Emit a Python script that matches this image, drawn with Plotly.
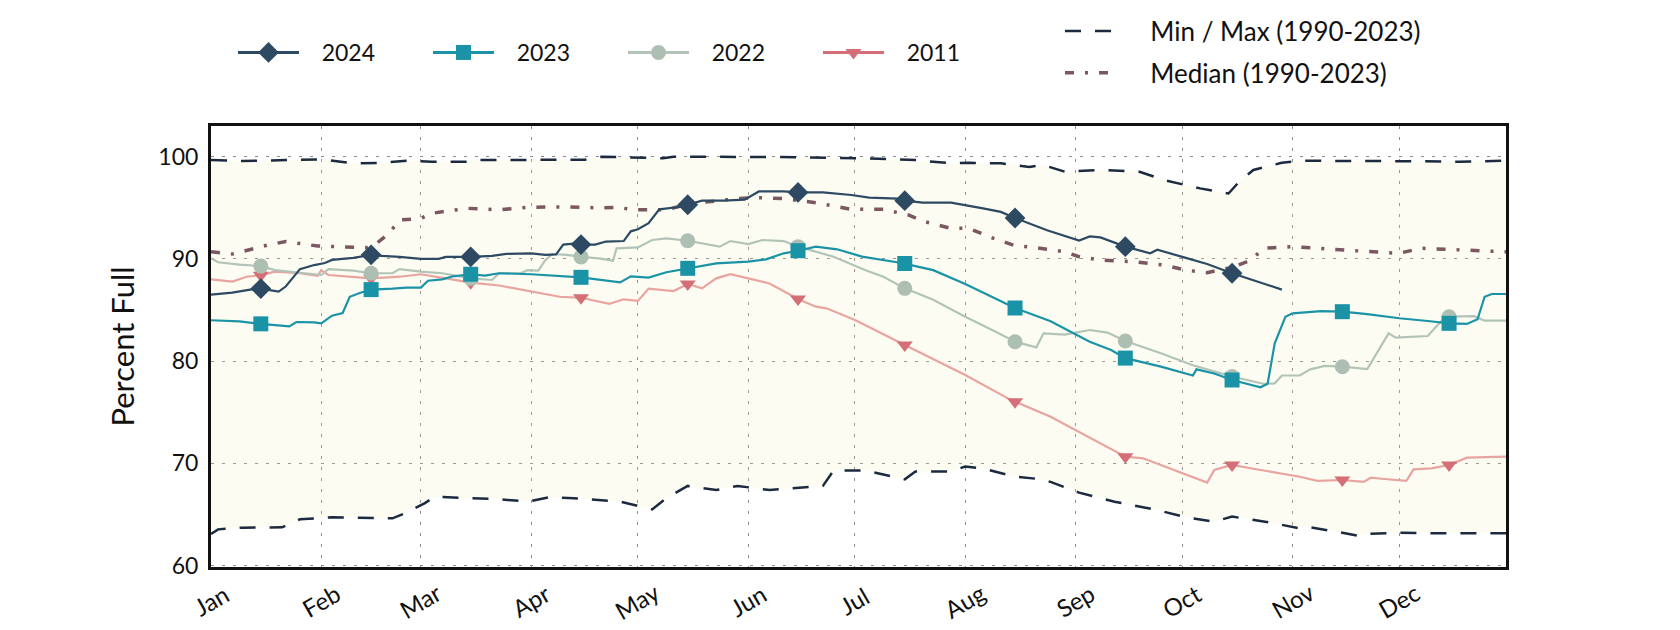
import plotly.graph_objects as go
import pandas as pd

BASE = pd.Timestamp("2023-01-01")
MONTHS = ["Jan", "Feb", "Mar", "Apr", "May", "Jun", "Jul", "Aug", "Sep", "Oct", "Nov", "Dec"]
MONTH_START_DAYS = [0, 31, 59, 90, 120, 151, 181, 212, 243, 273, 304, 334]
MARKER_DAYS = [14, 45, 73, 104, 134, 165, 195, 226, 257, 287, 318, 348]
Y_TICKS = [60, 70, 80, 90, 100]

# ---- data: day of year (0 = Jan 1) and percent full ----
days_2024 = [0, 6, 11, 14, 19, 21, 25, 29, 32, 34, 40, 45, 48, 53, 59, 64, 66, 73, 79, 83,
             90, 94, 97, 99, 102, 104, 108, 111, 116, 118, 120, 123, 126, 129, 132, 134, 138, 144, 150, 154,
             161, 165, 172, 180, 185, 193, 195, 200, 208, 217, 222, 226, 231, 235, 244, 247, 250, 257, 264, 266,
             274, 280, 287, 293, 301]
pct_2024 = [86.5, 86.7, 87.0, 87.1, 86.8, 87.3, 89.0, 89.4, 89.6, 89.9, 90.1, 90.4, 90.3, 90.2, 90.0, 90.0, 90.2, 90.2, 90.3, 90.5,
            90.55, 90.4, 90.45, 91.4, 91.5, 91.4, 91.4, 91.7, 91.75, 92.7, 92.9, 93.5, 94.85, 95.0, 95.1, 95.3, 95.7, 95.7, 95.8, 96.6,
            96.6, 96.5, 96.5, 96.25, 96.0, 95.9, 95.7, 95.5, 95.5, 94.95, 94.6, 94.0, 93.3, 92.8, 91.8, 92.2, 92.1, 91.2, 90.55, 90.9,
            90.1, 89.5, 88.6, 87.9, 87.0]

days_2023 = [0, 8, 14, 18, 22, 24, 29, 31, 32, 34, 37, 39, 42, 45, 51, 55, 59, 61, 65, 68,
             73, 77, 81, 90, 104, 109, 115, 118, 123, 128, 134, 142, 151, 156, 161, 165, 170, 176, 183, 189,
             195, 198, 203, 212, 226, 236, 247, 253, 257, 267, 276, 277, 282, 287, 295, 297, 299, 302, 304, 312,
             318, 325, 334, 342, 348, 353, 356, 358, 360, 364]
pct_2023 = [84.0, 83.9, 83.65, 83.55, 83.4, 83.83, 83.8, 83.7, 83.96, 84.45, 84.7, 86.3, 86.7, 87.0, 87.1, 87.2, 87.2, 87.87, 88.0, 88.3,
            88.5, 88.36, 88.6, 88.5, 88.2, 87.95, 87.7, 88.3, 88.17, 88.7, 89.08, 89.57, 89.73, 89.96, 90.55, 90.8, 91.2, 90.94, 90.22, 89.9,
            89.55, 89.3, 88.9, 87.55, 85.2, 83.9, 81.9, 81.1, 80.3, 79.46, 78.6, 79.2, 78.8, 78.16, 77.44, 77.8, 81.74, 84.35, 84.68, 84.9,
            84.84, 84.6, 84.2, 83.93, 83.7, 83.64, 84.1, 86.3, 86.57, 86.57]

days_2022 = [0, 2, 8, 14, 18, 25, 31, 33, 40, 45, 51, 53, 59, 65, 70, 73, 79, 81, 87, 89,
             92, 94, 96, 100, 104, 109, 113, 114, 120, 124, 128, 134, 143, 146, 151, 155, 161, 165, 175, 184,
             189, 195, 203, 212, 221, 226, 232, 234, 240, 247, 252, 257, 267, 276, 287, 296, 299, 301, 306, 309,
             313, 318, 325, 331, 333, 342, 346, 348, 355, 358, 364]
pct_2022 = [90.06, 89.67, 89.44, 89.3, 88.9, 88.66, 88.43, 89.0, 88.85, 88.6, 88.6, 89.0, 88.75, 88.6, 88.3, 88.1, 87.94, 88.6, 88.6, 88.9,
            88.85, 89.9, 90.48, 90.4, 90.2, 90.06, 89.83, 91.04, 91.13, 91.85, 92.0, 91.78, 91.2, 91.75, 91.46, 91.85, 91.75, 91.2, 90.22, 88.9,
            88.26, 87.12, 86.0, 84.35, 82.8, 81.9, 81.35, 82.72, 82.6, 83.05, 82.8, 81.97, 80.77, 79.6, 78.5, 77.77, 77.83, 78.6, 78.6, 79.2,
            79.53, 79.46, 79.23, 82.72, 82.3, 82.46, 84.0, 84.35, 84.4, 83.96, 83.96]

days_2011 = [0, 6, 10, 14, 18, 25, 30, 31, 33, 40, 45, 53, 59, 66, 73, 81, 90, 98, 104, 109,
             112, 116, 120, 123, 130, 134, 138, 142, 146, 151, 157, 165, 170, 173, 181, 195, 212, 224, 226, 236,
             250, 257, 262, 280, 282, 287, 295, 306, 311, 318, 324, 326, 329, 336, 338, 343, 348, 353, 364]
pct_2011 = [88.0, 87.78, 88.26, 88.4, 88.75, 88.6, 88.36, 88.9, 88.43, 88.2, 88.1, 88.26, 88.5, 88.1, 87.68, 87.4, 86.8, 86.3, 86.2, 85.8,
            85.6, 86.05, 85.9, 87.1, 86.86, 87.55, 87.12, 88.1, 88.5, 88.1, 87.6, 86.08, 85.33, 85.17, 84.03, 81.58, 78.65, 76.36, 76.04, 74.57,
            71.96, 70.66, 70.5, 68.12, 69.36, 69.85, 69.36, 68.7, 68.3, 68.38, 68.2, 68.6, 68.5, 68.3, 69.42, 69.52, 69.85, 70.56, 70.66]

days_max = [0, 9, 31, 40, 48, 55, 62, 72, 75, 90, 102, 105, 110, 127, 130, 150, 165, 184, 198, 208,
            213, 222, 230, 234, 240, 250, 261, 268, 278, 286, 289, 293, 301, 306, 325, 340, 351, 364]
pct_max = [99.67, 99.58, 99.74, 99.35, 99.4, 99.6, 99.5, 99.5, 99.67, 99.67, 99.74, 99.7, 100.0, 99.85, 100.0, 100.0, 99.95, 99.84, 99.67, 99.35,
           99.4, 99.35, 99.0, 99.18, 98.53, 98.7, 98.53, 97.7, 96.9, 96.4, 97.55, 98.7, 99.4, 99.6, 99.6, 99.55, 99.5, 99.6]

days_min = [0, 2, 9, 20, 25, 34, 51, 54, 60, 63, 72, 81, 89, 95, 102, 109, 115, 124, 128, 134,
            142, 148, 157, 172, 175, 184, 195, 198, 208, 212, 217, 226, 232, 236, 244, 254, 266, 274, 282, 287,
            298, 306, 308, 315, 323, 325, 334, 343, 364]
pct_min = [63.1, 63.55, 63.72, 63.75, 64.53, 64.73, 64.63, 65.05, 66.1, 66.75, 66.6, 66.5, 66.26, 66.68, 66.6, 66.4, 66.26, 65.5, 66.6, 67.8,
           67.4, 67.8, 67.4, 67.8, 69.3, 69.3, 68.44, 69.2, 69.2, 69.7, 69.5, 68.7, 68.5, 68.2, 67.14, 66.26, 65.44, 64.73, 64.3, 64.8,
           64.2, 63.65, 63.8, 63.4, 62.9, 63.1, 63.23, 63.16, 63.16]

days_median = [0, 6, 16, 21, 30, 44, 46, 50, 53, 59, 62, 72, 81, 89, 100, 109, 114, 119, 128, 134,
               148, 153, 161, 170, 180, 189, 196, 200, 208, 213, 220, 226, 232, 240, 244, 250, 259, 268, 274, 280,
               287, 292, 296, 304, 315, 325, 334, 340, 353, 364]
pct_median = [90.7, 90.48, 91.36, 91.7, 91.26, 91.1, 91.36, 92.5, 93.8, 93.97, 94.46, 94.95, 94.8, 95.05, 95.1, 95.0, 95.05, 94.8, 94.8, 95.37,
              95.9, 96.0, 95.9, 95.5, 94.85, 94.85, 94.3, 93.7, 92.99, 92.99, 92.0, 91.3, 91.1, 90.7, 90.22, 89.9, 89.73, 89.4, 88.9, 88.66,
              89.18, 89.83, 91.04, 91.2, 90.94, 90.7, 90.55, 91.04, 90.87, 90.7]

FONT = "Lato"
C_MINMAX = "#1b2a3f"
C_MEDIAN = "#7b5761"
FILL = "rgba(238,238,170,0.15)"
GRID = "#8c8c8c"
NB = "\u00a0"

SERIES = [
    # name, days, values, line color, marker color, symbol, marker size
    ("2011", days_2011, pct_2011, "#e8a4a0", "#d46f77", "triangle-down", 14),
    ("2022", days_2022, pct_2022, "#b2c3b8", "#adbfb3", "circle", 15),
    ("2023", days_2023, pct_2023, "#1a93a7", "#1a93a7", "square", 15),
    ("2024", days_2024, pct_2024, "#2d4a62", "#2d4a62", "diamond", 16),
]


def to_dates(days):
    return [BASE + pd.Timedelta(days=int(d)) for d in days]


fig = go.Figure()

# min / max envelope
fig.add_trace(go.Scatter(x=to_dates(days_max), y=pct_max, mode="lines",
                         line=dict(color=C_MINMAX, width=2.5, dash="16px,14px"),
                         name=NB * 5 + "Min / Max (1990-2023)", legend="legend2", legendgroup="mm",
                         showlegend=True, hoverinfo="skip"))
fig.add_trace(go.Scatter(x=to_dates(days_min), y=pct_min, mode="lines",
                         line=dict(color=C_MINMAX, width=2.5, dash="16px,14px"),
                         fill="tonexty", fillcolor=FILL, legendgroup="mm", legend="legend2",
                         showlegend=False, hoverinfo="skip"))
fig.add_trace(go.Scatter(x=to_dates(days_median), y=pct_median, mode="lines",
                         line=dict(color=C_MEDIAN, width=3.5, dash="9px,11px,3px,11px"),
                         name=NB * 5 + "Median (1990-2023)", legend="legend2", legendgroup="med",
                         showlegend=True))

for name, d, v, lc, mc, sym, ms in SERIES:
    fig.add_trace(go.Scatter(x=to_dates(d), y=v, mode="lines",
                             line=dict(color=lc, width=2.2), showlegend=False, name=name))
    md = [dd for dd in d if dd in MARKER_DAYS]
    mv = [vv for dd, vv in zip(d, v) if dd in MARKER_DAYS]
    fig.add_trace(go.Scatter(x=to_dates(md), y=mv, mode="markers",
                             marker=dict(symbol=sym, size=ms, color=mc, line=dict(width=0)),
                             showlegend=False, name=name))

# legend-only entries (display order 2024, 2023, 2022, 2011)
for name, d, v, lc, mc, sym, ms in reversed(SERIES):
    fig.add_trace(go.Scatter(x=[None], y=[None], mode="lines+markers", name=NB * 3 + name,
                             line=dict(color=lc if name != "2011" else mc, width=3),
                             marker=dict(symbol=sym, size=ms, color=mc),
                             legend="legend", showlegend=True))

# month labels (rotated, centred on month starts)
for m, d in zip(MONTHS, MONTH_START_DAYS):
    fig.add_annotation(x=BASE + pd.Timedelta(days=d), y=-0.077, xref="x", yref="paper",
                       text=m, showarrow=False, textangle=-30, xanchor="center", yanchor="middle",
                       font=dict(family=FONT, size=24, color="#111"))

fig.update_layout(
    width=1680, height=630,
    margin=dict(l=211, r=174, t=126, b=63, autoexpand=False),
    paper_bgcolor="white", plot_bgcolor="white",
    font=dict(family=FONT, size=22, color="#111"),
    legend=dict(orientation="h", xref="paper", yref="container",
                x=(233 - 211) / 1295, y=1 - 52.5 / 630, xanchor="left", yanchor="middle",
                itemwidth=61, entrywidth=119, traceorder="normal",
                font=dict(size=23, family=FONT), bgcolor="rgba(0,0,0,0)"),
    legend2=dict(orientation="v", xref="paper", yref="container",
                 x=(1060 - 211) / 1295, y=1 - 52 / 630, xanchor="left", yanchor="middle",
                 itemwidth=47, tracegroupgap=5, traceorder="grouped",
                 font=dict(size=26, family=FONT), bgcolor="rgba(0,0,0,0)"),
    xaxis=dict(type="date", range=[BASE, BASE + pd.Timedelta(days=364)],
               tick0=BASE, dtick="M1", showticklabels=False, ticks="",
               showgrid=True, gridcolor=GRID, gridwidth=1.2, griddash="3px,8px",
               showline=True, linecolor="#111", linewidth=3, mirror=True, zeroline=False),
    yaxis=dict(range=[59.87, 103.0], tickvals=Y_TICKS, ticks="", ticklen=0,
               ticklabelstandoff=5,
               showgrid=True, gridcolor=GRID, gridwidth=1.2, griddash="3px,8px",
               showline=True, linecolor="#111", linewidth=3, mirror=True, zeroline=False,
               title=dict(text="Percent Full", standoff=15, font=dict(size=31, family=FONT)),
               tickfont=dict(size=23, family=FONT)),
    showlegend=True,
)

fig.write_html("out.html", config={"displayModeBar": False},
               post_script="document.body.style.margin='0';")
